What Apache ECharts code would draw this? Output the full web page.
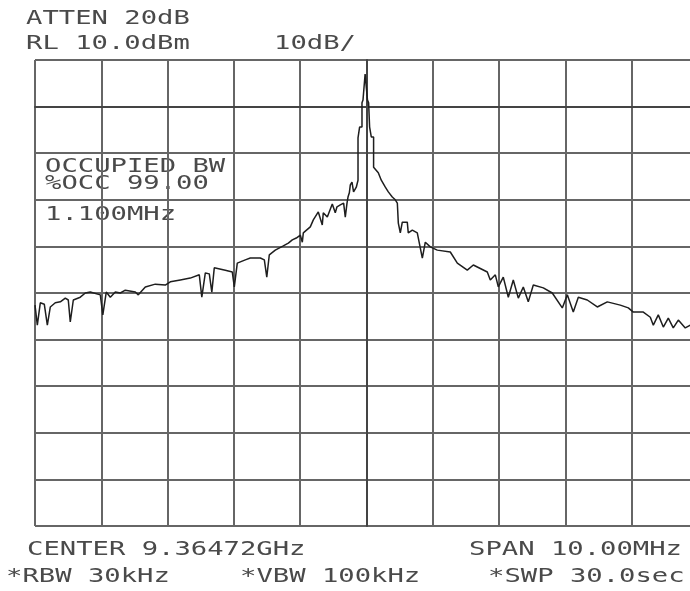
<!DOCTYPE html>
<html>
<head>
<meta charset="utf-8">
<script src="https://cdn.jsdelivr.net/npm/echarts@6/dist/echarts.min.js"></script>
<style>
  html, body { margin: 0; padding: 0; background: #ffffff; overflow: hidden; }
  /* the screen's last column runs past the right edge of the window */
  #chart { width: 700px; height: 591px; }
</style>
</head>
<body>
<div id="chart"></div>
<script>
// Spectrum trace: frequency offset from centre (MHz) and level (dBm)
const freqOffsetMHz = [
  -5.000, -4.965, -4.920, -4.860, -4.814, -4.769, -4.694, -4.618, -4.543, -4.498,
  -4.468, -4.422, -4.317, -4.241, -4.166, -4.015, -3.977, -3.925, -3.864, -3.789,
  -3.713, -3.638, -3.487, -3.442, -3.336, -3.186, -3.035, -2.959, -2.808, -2.658,
  -2.522, -2.484, -2.431, -2.371, -2.333, -2.296, -2.130, -2.024, -1.994, -1.949,
  -1.828, -1.753, -1.602, -1.541, -1.504, -1.466, -1.376, -1.255, -1.179, -1.119,
  -1.059, -0.998, -0.968, -0.953, -0.848, -0.802, -0.727, -0.667, -0.652, -0.591,
  -0.516, -0.471, -0.445, -0.395, -0.345, -0.320, -0.294, -0.279, -0.259, -0.244,
  -0.219, -0.195, -0.154, -0.128, -0.128, -0.104, -0.104, -0.068, -0.068, -0.053,
  -0.053, -0.029, -0.021, -0.008, 0.006, 0.015, 0.032, 0.032, 0.047, 0.047,
  0.072, 0.072, 0.107, 0.107, 0.178, 0.223, 0.284, 0.329, 0.389, 0.434,
  0.465, 0.480, 0.510, 0.540, 0.615, 0.630, 0.691, 0.766, 0.842, 0.887,
  0.962, 1.068, 1.264, 1.370, 1.520, 1.611, 1.822, 1.867, 1.943, 1.988,
  2.063, 2.139, 2.214, 2.290, 2.365, 2.440, 2.516, 2.667, 2.802, 2.953,
  3.029, 3.119, 3.195, 3.330, 3.481, 3.632, 3.828, 3.949, 4.024, 4.175,
  4.281, 4.326, 4.401, 4.477, 4.552, 4.627, 4.703, 4.808, 4.884, 4.989
];
const levelDbm = [
  -42.6, -46.9, -42.1, -42.4, -46.9, -43.0, -42.1, -41.9, -41.1, -41.5,
  -46.2, -41.5, -40.9, -40.0, -39.8, -40.4, -44.7, -39.8, -40.9, -39.8,
  -40.0, -39.4, -39.8, -40.4, -38.7, -38.1, -38.3, -37.6, -37.2, -36.8,
  -36.1, -40.9, -35.7, -35.9, -39.8, -34.6, -35.1, -35.5, -38.7, -33.6,
  -32.9, -32.5, -32.5, -32.9, -36.6, -31.8, -30.8, -29.9, -29.3, -28.6,
  -28.2, -27.6, -29.1, -27.1, -25.8, -24.3, -22.6, -25.4, -22.8, -23.7,
  -20.9, -22.8, -21.5, -21.1, -20.7, -23.7, -20.7, -19.4, -18.5, -16.8,
  -16.2, -18.3, -17.3, -15.8, -6.7, -6.7, -4.4, -4.4, 0.8, 0.8,
  1.4, 1.4, 7.0, 7.2, 6.8, 1.4, 1.4, 0.8, 0.8, -4.4,
  -4.4, -6.5, -6.5, -13.0, -14.2, -15.8, -17.3, -18.3, -19.4, -20.0,
  -20.7, -25.0, -27.1, -24.8, -24.8, -27.1, -26.5, -27.1, -32.5, -29.1,
  -30.1, -30.8, -31.2, -33.6, -35.1, -34.0, -35.5, -37.2, -36.1, -38.7,
  -36.6, -40.9, -37.2, -41.1, -38.7, -41.9, -38.3, -38.9, -40.0, -43.2,
  -40.4, -44.1, -40.9, -41.5, -43.0, -41.9, -42.6, -43.2, -44.1, -44.1,
  -45.2, -46.9, -44.7, -47.3, -45.4, -47.5, -45.8, -47.5, -46.9, -47.3
];

// Screen annotations (analyser settings)
const headerLines = ['ATTEN 20dB', 'RL 10.0dBm'];
const scaleLabel = '10dB/';
const occupiedLines = ['OCCUPIED BW', '%OCC 99.00', '1.100MHz'];
const footerLeft = ['CENTER 9.36472GHz', '*RBW 30kHz'];
const footerMid = '*VBW 100kHz';
const footerRight = ['SPAN 10.00MHz', '*SWP 30.0sec'];

const FONT = '"DejaVu Sans Mono", "Liberation Mono", monospace';
const TEXT_COLOR = '#4a4a4a';

// Wide plotter-style lettering: monospace glyphs stretched horizontally
function label(text, x, y) {
  return {
    type: 'text',
    x: x, y: y,
    scaleX: 1.36,
    originX: 0, originY: 0,
    silent: true,
    style: {
      text: text,
      x: 0, y: 0,
      fill: TEXT_COLOR,
      font: 'normal 20px ' + FONT,
      verticalAlign: 'middle',
      align: 'left'
    }
  };
}

const chart = echarts.init(document.getElementById('chart'), null, { renderer: 'canvas' });

const trace = freqOffsetMHz.map((f, i) => [f, levelDbm[i]]);

chart.setOption({
  animation: false,
  backgroundColor: '#ffffff',
  grid: { left: 35, top: 60, width: 663, height: 466, show: false },
  xAxis: {
    type: 'value', min: -5, max: 5, interval: 1,
    axisLine: { show: true, lineStyle: { color: '#444', width: 2 } },
    axisTick: { show: false },
    axisLabel: { show: false },
    splitLine: { show: true, lineStyle: { color: '#666', width: 2 } }
  },
  yAxis: {
    type: 'value', min: -90, max: 10, interval: 10,
    axisLine: { show: true, lineStyle: { color: '#444', width: 2 } },
    axisTick: { show: false },
    axisLabel: { show: false },
    splitLine: { show: true, lineStyle: { color: '#333', width: 1.6 } }
  },
  series: [{
    type: 'line',
    data: trace,
    symbol: 'none',
    clip: true,
    lineStyle: { color: '#1e1e1e', width: 1.5 },
    z: 5
  }],
  graphic: [
    label(headerLines[0], 26, 19),
    label(headerLines[1], 26, 44),
    label(scaleLabel, 274, 44),
    label(occupiedLines[0], 45, 167),
    label(occupiedLines[1], 45, 184),
    label(occupiedLines[2], 45, 215),
    label(footerLeft[0], 27, 550),
    label(footerLeft[1], 6, 577),
    label(footerMid, 240, 577),
    label(footerRight[0], 469, 550),
    label(footerRight[1], 488, 577)
  ]
});
</script>
</body>
</html>
